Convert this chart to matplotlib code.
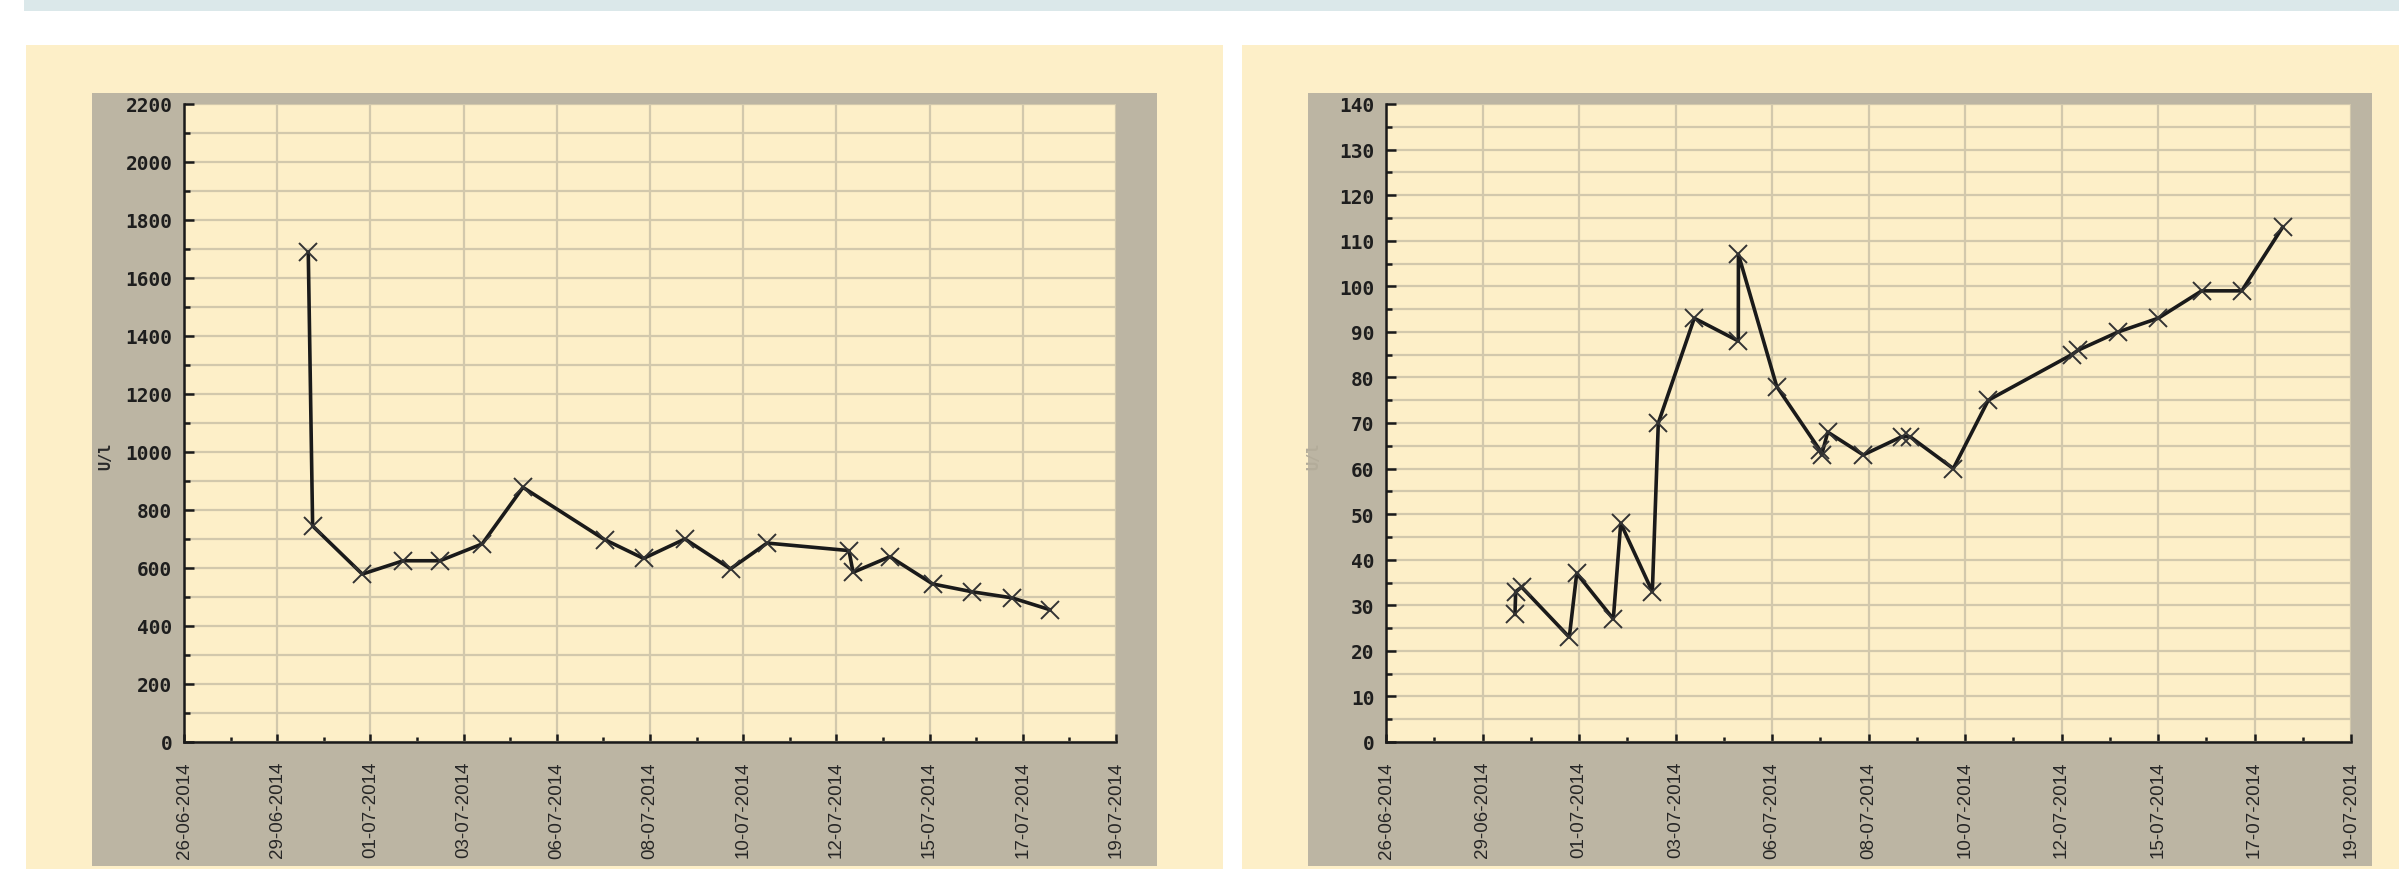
import numpy as np, pandas as pd
from matplotlib import pyplot as plt
from matplotlib.patches import Rectangle
import matplotlib.dates as mdates
from datetime import datetime, timedelta

# Enzyme activity (U/l) and second marker, sample times shared by both panels
left_times = ["2014-06-29 22:00", "2014-06-30 00:35", "2014-07-01 06:00",
              "2014-07-02 06:15", "2014-07-03 04:00", "2014-07-04 05:00",
              "2014-07-05 05:10", "2014-07-07 05:30", "2014-07-08 04:35",
              "2014-07-09 05:05", "2014-07-10 08:05", "2014-07-11 05:45",
              "2014-07-13 06:15", "2014-07-13 08:40", "2014-07-14 06:30",
              "2014-07-15 07:50", "2014-07-16 07:10", "2014-07-17 06:50",
              "2014-07-18 05:20"]
left_values = [1689, 745, 579, 625, 625, 683, 878, 698, 633, 700, 597, 686,
               660, 585, 639, 545, 518, 497, 456]

right_times = ["2014-06-29 22:10", "2014-06-29 22:35", "2014-06-30 02:00",
               "2014-07-01 05:15", "2014-07-01 09:30", "2014-07-02 06:25",
               "2014-07-02 10:40", "2014-07-03 04:45", "2014-07-03 08:10",
               "2014-07-04 04:45", "2014-07-05 05:55", "2014-07-05 06:00",
               "2014-07-06 03:55", "2014-07-07 04:40", "2014-07-07 05:35",
               "2014-07-07 09:05", "2014-07-08 05:25", "2014-07-09 03:25",
               "2014-07-09 08:10", "2014-07-10 08:55", "2014-07-11 04:55",
               "2014-07-13 04:40", "2014-07-13 08:25", "2014-07-14 07:20",
               "2014-07-15 06:10", "2014-07-16 07:00", "2014-07-17 05:55",
               "2014-07-18 05:20"]
right_values = [28, 33, 34, 23, 37, 27, 48, 33, 70, 93, 88, 107, 78, 64, 63,
                68, 63, 67, 67, 60, 75, 85, 86, 90, 93, 99, 99, 113]

date_labels = ["26-06-2014", "29-06-2014", "01-07-2014", "03-07-2014",
               "06-07-2014", "08-07-2014", "10-07-2014", "12-07-2014",
               "15-07-2014", "17-07-2014", "19-07-2014"]

left_yticks = np.arange(0, 2201, 200)
right_yticks = np.arange(0, 141, 10)

W, H = 2399, 870
cream = '#fdefc8'
frame = '#bcb5a3'
grid_c = '#d2c8ac'
ink = '#1a1a1a'

fig = plt.figure(figsize=(W / 100, H / 100), dpi=100)
fig.patch.set_facecolor('white')

def box(x0, y0, x1, y1, color):
    # pixel box, measured from the top left corner of the figure
    fig.add_artist(Rectangle((x0 / W, 1 - y1 / H), (x1 - x0) / W, (y1 - y0) / H,
                             transform=fig.transFigure, facecolor=color,
                             edgecolor='none', zorder=-10))

box(24, 0, W, 12, '#dbe8ea')
box(26, 46, 1223, H, cream)
box(1242, 46, W, H, cream)
box(92, 94, 1157, 867, frame)
box(1308, 94, 2372, 867, frame)

# axis runs over 23 days, labelled every 2.3 days
start = datetime(2014, 6, 26, 20, 24)
end = start + timedelta(days=23)
xmajor = mdates.date2num(start) + 2.3 * np.arange(11)
xminor = xmajor[:-1] + 1.15

def panel(rect, times, values, yticks, ystep, ylabel, ylabel_x, ylabel_color):
    x0, y0, x1, y1 = rect
    ax = fig.add_axes([x0 / W, 1 - y1 / H, (x1 - x0) / W, (y1 - y0) / H])
    ax.set_facecolor(cream)

    x = mdates.date2num(pd.to_datetime(times))
    ax.plot(x, values, c=ink, lw=2.6, marker='x', ms=13, mew=1.4,
            mec='#333333', zorder=3, clip_on=False)

    ax.set_xlim(mdates.date2num(start), mdates.date2num(end))
    ax.set_ylim(0, yticks[-1])

    ax.set_xticks(xmajor)
    ax.set_xticks(xminor, minor=True)
    ax.set_xticklabels(date_labels, rotation=90, fontfamily='Liberation Sans',
                       fontsize=13.5, color='#262626')

    ax.set_yticks(yticks)
    ax.set_yticks(np.arange(ystep / 2, yticks[-1], ystep), minor=True)
    ax.set_yticklabels([str(v) for v in yticks], fontfamily='DejaVu Sans Mono',
                       fontweight='bold', fontsize=14, color='#1e1e1e')

    ax.set_axisbelow(True)
    ax.grid(axis='x', which='major', color=grid_c, lw=1.6)
    ax.grid(axis='y', which='both', color=grid_c, lw=1.6)

    ax.spines['top'].set_visible(False)
    ax.spines['right'].set_visible(False)
    for s in ['left', 'bottom']:
        ax.spines[s].set_linewidth(1.8)
        ax.spines[s].set_color(ink)

    ax.tick_params(axis='y', which='major', direction='in', length=7.2,
                   width=1.8, color=ink, pad=8.3)
    ax.tick_params(axis='y', which='minor', direction='in', length=4.3,
                   width=1.8, color=ink)
    ax.tick_params(axis='x', which='major', direction='in', length=5.8,
                   width=1.8, color=ink, pad=13.7)
    ax.tick_params(axis='x', which='minor', direction='in', length=3.6,
                   width=1.8, color=ink)

    ax.set_ylabel(ylabel, fontfamily='DejaVu Sans Mono', fontweight='bold',
                  fontsize=11, color=ylabel_color)
    ax.yaxis.set_label_coords((ylabel_x - x0) / (x1 - x0), 0.45)
    return ax

panel((184, 105, 1116, 743), left_times, left_values, left_yticks, 200,
      'U/l', 113, '#2a2a2a')
panel((1386, 105, 2351, 743), right_times, right_values, right_yticks, 10,
      'U/l', 1321, '#b3ac9a')

plt.savefig('out.png', dpi=100, facecolor=fig.get_facecolor())
plt.close()
